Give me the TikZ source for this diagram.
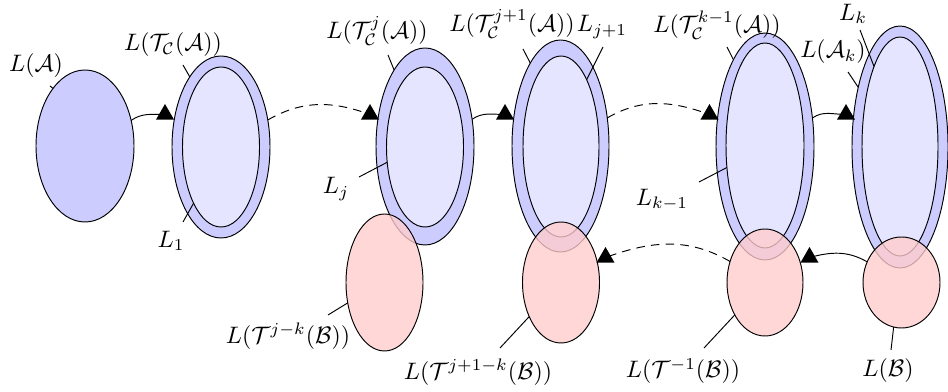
\documentclass[tikz,border=0pt]{standalone}
\usetikzlibrary{shapes.geometric}
\begin{document}
\begin{tikzpicture}[x=0.42pt,y=-0.42pt,
  ell/.style 2 args={ellipse,draw,inner sep=0pt,outer sep=0pt,minimum width={#1*0.84pt},minimum height={#2*0.84pt}},
  outerE/.style={fill=blue!20},
  innerE/.style={fill=blue!10},
  pinkE/.style={fill=red!20,fill opacity=0.78},
  tri/.style={regular polygon,regular polygon sides=3,fill=black,inner sep=0pt,minimum size={21*0.42pt}},
  dsh/.style={dash pattern=on 3.6pt off 2.6pt},
  lbl/.style={inner sep=0pt}]
\useasboundingbox (0,0) rectangle (948,392);

% blue ellipses
\node[ell={49}{76},outerE] (e1) at (85,146) {};
\node[ell={49}{91},outerE] (e2o) at (221,147) {};
\node[ell={38.5}{80},innerE] (e2i) at (221,147) {};
\node[ell={49}{98.5},outerE] (e3o) at (425,146.5) {};
\node[ell={38.5}{80},innerE] (e3i) at (425,147) {};
\node[ell={48.5}{106},outerE] (e4o) at (560.5,146) {};
\node[ell={38}{90.5},innerE] (e4i) at (561,146.5) {};
\node[ell={49}{113.5},outerE] (e5o) at (765,146.5) {};
\node[ell={39}{102.5},innerE] (e5i) at (765,145.5) {};
\node[ell={48}{121},outerE] (e6o) at (900,147) {};
\node[ell={38}{109.5},innerE] (e6i) at (900,146.5) {};

% pink ellipses
\node[ell={38.5}{68.5},pinkE] (p1) at (384.5,282.5) {};
\node[ell={38.5}{60.5},pinkE] (p2) at (561,282.5) {};
\node[ell={38}{53.5},pinkE] (p3) at (765,282.5) {};
\node[ell={38.5}{45.5},pinkE] (p4) at (901.5,282.5) {};

% arrow tips
\node[tri] (t1) at (165,114.5) {};
\node[tri] (t2) at (370,114.5) {};
\node[tri] (t3) at (505,114.5) {};
\node[tri] (t4) at (709.5,114.5) {};
\node[tri] (t5) at (846,114.5) {};
\node[tri] (t6) at (809.5,257.5) {};
\node[tri] (t7) at (605.5,257.5) {};

% connectors
\draw (e1.29.9) to[out=35,in=180] (t1.center);
\draw[dsh] (e2o.30.6) to[out=30,in=160] (t2.center);
\draw (e3o.30.7) to[out=35,in=180] (t3.center);
\draw[dsh] (e4o.31.4) to[out=30,in=160] (t4.center);
\draw (e5o.31.6) to[out=35,in=180] (t5.center);
\draw (p4.149.3) to[out=150,in=15] (t6.center);
\draw[dsh] (p3.149.8) to[out=150,in=20] (t7.center);

% labels
\node[lbl] (tA) at (36,66) {$L(\mathcal{A})$};
\node[lbl] (tTC) at (173,45) {$L(\mathcal{T}_{\mathcal{C}}(\mathcal{A}))$};
\node[lbl] (t1l) at (171,241) {$L_1$};
\node[lbl] (tTj) at (377,31) {$L(\mathcal{T}_{\mathcal{C}}^{j}(\mathcal{A}))$};
\node[lbl] (tj) at (336,189) {$L_j$};
\node[lbl] (tTj1) at (512,24) {$L(\mathcal{T}_{\mathcal{C}}^{j+1}(\mathcal{A}))$};
\node[lbl] (tj1) at (602,27) {$L_{j+1}$};
\node[lbl] (tTk1) at (717,25) {$L(\mathcal{T}_{\mathcal{C}}^{k-1}(\mathcal{A}))$};
\node[lbl] (tk1) at (662,200) {$L_{k-1}$};
\node[lbl] (tk) at (853,14) {$L_k$};
\node[lbl] (tAk) at (833,52) {$L(\mathcal{A}_k)$};
\node[lbl] (tBjk) at (288,336) {$L(\mathcal{T}^{j-k}(\mathcal{B}))$};
\node[lbl] (tBj1k) at (478,372) {$L(\mathcal{T}^{j+1-k}(\mathcal{B}))$};
\node[lbl] (tB1) at (683,371) {$L(\mathcal{T}^{-1}(\mathcal{B}))$};
\node[lbl] (tB) at (888,371) {$L(\mathcal{B})$};

% leader lines
\coordinate (cA) at (50,86);
\coordinate (cTC) at (183,65);
\coordinate (c1) at (183,222);
\coordinate (cTj) at (388,55);
\coordinate (cj) at (359,177);
\coordinate (cTj1) at (523,49);
\coordinate (cj1) at (603,47);
\coordinate (cTk1) at (727,47);
\coordinate (ck1) at (699,182);
\coordinate (ck) at (860,30);
\coordinate (cAk) at (848,72);
\coordinate (cBjk) at (328,315);
\coordinate (cBj1k) at (500,348);
\coordinate (cB1) at (704,348);
\coordinate (cB) at (891,350);

\draw (cA) -- (e1.119.7);
\draw (cTC) -- (e2o.114.6);
\draw (c1) -- (e2i.244.3);
\draw (cTj) -- (e3o.112.7);
\draw (cj) -- (e3i.202.8);
\draw (cTj1) -- (e4o.110.8);
\draw (cj1) -- (e4i.69.2);
\draw (cTk1) -- (e5o.110.7);
\draw (ck1) -- (e5i.210.6);
\draw (ck) -- (e6i.108.3);
\draw (cAk) -- (e6o.125.2);
\draw (cBjk) -- (p1.209.8);
\draw (cBj1k) -- (p2.227.2);
\draw (cB1) -- (p3.227.2);
\draw (cB) -- (p4.260.6);
\end{tikzpicture}
\end{document}
